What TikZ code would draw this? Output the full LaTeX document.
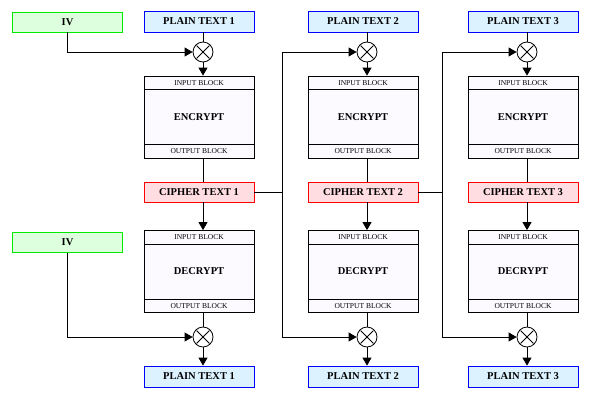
\documentclass[tikz,border=0pt]{standalone}
\usepackage{fontspec}
\setmainfont{Liberation Serif}
\usetikzlibrary{arrows.meta,positioning,calc}

\definecolor{ivline}{RGB}{0,235,0}
\definecolor{ivfill}{RGB}{221,255,221}
\definecolor{ptline}{RGB}{0,0,255}
\definecolor{ptfill}{RGB}{221,242,255}
\definecolor{ctline}{RGB}{255,0,0}
\definecolor{ctfill}{RGB}{255,221,224}
\definecolor{blkfill}{RGB}{252,250,255}

\tikzset{
	lbl/.style={draw,line width=0.8pt,minimum width=110pt,minimum height=20pt,inner sep=0pt,
		font=\fontsize{10.5}{12}\selectfont\bfseries},
	ivbox/.style={lbl,draw=ivline,fill=ivfill},
	plainbox/.style={lbl,draw=ptline,fill=ptfill,minimum height=21pt},
	cipherbox/.style={lbl,draw=ctline,fill=ctfill},
	blk/.style={draw,line width=0.8pt,fill=blkfill,minimum width=110pt,minimum height=82pt,
		inner sep=0pt,font=\fontsize{10.5}{12}\selectfont\bfseries},
	strip/.style={draw,line width=0.8pt,minimum width=110pt,minimum height=13.5pt,inner sep=0pt,
		font=\fontsize{7.5}{8}\selectfont},
	xor/.style={circle,draw,fill=white,line width=0.8pt,minimum size=20pt,inner sep=0pt,
		path picture={
			\draw[shorten <=5pt,shorten >=5pt] (path picture bounding box.north west)
				-- (path picture bounding box.south east);
			\draw[shorten <=5pt,shorten >=5pt] (path picture bounding box.south west)
				-- (path picture bounding box.north east);
		}},
	arr/.style={-{Triangle[length=8pt,width=9pt]}}
}

\begin{document}
\begin{tikzpicture}[x=1pt,y=-1pt,line width=0.8pt]
				\useasboundingbox (0,0) rectangle (591,400);

				% one column per block
				\foreach \x/\i in {199/1,363/2,523/3}
				{
					\node[plainbox] (pt\i) at (\x,21.5) {PLAIN TEXT \i};
					\node[xor] (xe\i) at (\x+4,52) {};
					\node[blk] (enc\i) at (\x,117) {ENCRYPT};
					\node[strip,anchor=north] (ei\i) at (enc\i.north) {INPUT BLOCK};
					\node[strip,anchor=south] (eo\i) at (enc\i.south) {OUTPUT BLOCK};
					\node[cipherbox] (ct\i) at (\x,192) {CIPHER TEXT \i};
					\node[blk] (dec\i) at (\x,271.5) {DECRYPT};
					\node[strip,anchor=north] (di\i) at (dec\i.north) {INPUT BLOCK};
					\node[strip,anchor=south] (do\i) at (dec\i.south) {OUTPUT BLOCK};
					\node[xor] (xd\i) at (\x+4,337) {};
					\node[plainbox] (pb\i) at (\x,376.5) {PLAIN TEXT \i};

					\draw (pt\i.south -| xe\i) -- (xe\i);
					\draw[arr] (xe\i) -- (enc\i.north -| xe\i);
					\draw (enc\i.south -| xe\i) -- (ct\i.north -| xe\i);
					\draw[arr] (ct\i.south -| xe\i) -- (dec\i.north -| xe\i);
					\draw (dec\i.south -| xd\i) -- (xd\i);
					\draw[arr] (xd\i) -- (pb\i.north -| xd\i);
				}

				\node[ivbox] (iv1) at (67.5,22) {IV};
				\node[ivbox] (iv2) at (67.5,242.5) {IV};
				\draw[arr] (iv1) |- (xe1);
				\draw[arr] (iv2) |- (xd1);

				% cipher text fed to the next column
				\coordinate (fb2) at (282.5,192);
				\coordinate (fb3) at (442.5,192);
				\draw (ct1.east) -- (fb2);
				\draw (ct2.east) -- (fb3);
				\foreach \j in {2,3}
				{
					\draw[arr] (fb\j) |- (xe\j);
					\draw[arr] (fb\j) |- (xd\j);
				}
			\end{tikzpicture}
\end{document}
